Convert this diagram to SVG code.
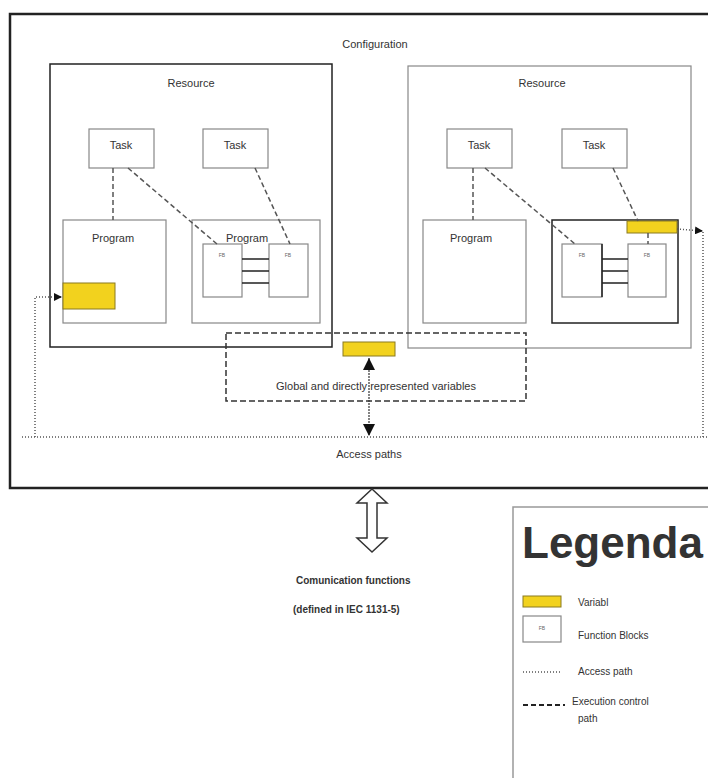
<svg xmlns="http://www.w3.org/2000/svg" width="708" height="778" viewBox="0 0 708 778">
<defs>
<style>
text{font-family:"Liberation Sans",Arial,sans-serif;fill:#333}
.lbl{font-size:11px}
.fb{font-size:5px;fill:#666}
.box{fill:#fff;stroke:#888;stroke-width:1.2}
.bbox{fill:#fff;stroke:#222;stroke-width:1.5}
.var{fill:#f2d21e;stroke:#8a7a20;stroke-width:1}
.exec{fill:none;stroke:#555;stroke-width:1.5;stroke-dasharray:5 3}
.acc{fill:none;stroke:#555;stroke-width:1.5;stroke-dasharray:1 2}
.wire{stroke:#222;stroke-width:1.5}
</style>
<marker id="ah" viewBox="0 0 10 10" refX="10" refY="5" markerWidth="8" markerHeight="8" orient="auto-start-reverse" markerUnits="userSpaceOnUse"><path d="M0,0 L10,5 L0,10 z" fill="#111"/></marker>
<marker id="ah2" viewBox="0 0 10 10" refX="10" refY="5" markerWidth="12" markerHeight="12" orient="auto-start-reverse" markerUnits="userSpaceOnUse"><path d="M0,0 L10,5 L0,10 z" fill="#111"/></marker>
</defs>
<rect width="708" height="778" fill="#fff"/>

<g id="configuration">
<path d="M730,14 H10 V488 H730" fill="none" stroke="#222" stroke-width="2.5"/>
<text class="lbl" x="375" y="48" text-anchor="middle">Configuration</text>
</g>

<g id="resource-left">
<rect class="bbox" x="50" y="64" width="282" height="283"/>
<text class="lbl" x="191" y="87" text-anchor="middle">Resource</text>
</g>
<g id="resource-right">
<rect class="box" x="408" y="66" width="283" height="282" stroke-width="1.5"/>
<text class="lbl" x="542" y="87" text-anchor="middle">Resource</text>
</g>

<g id="global-vars">
<rect x="226" y="333" width="300" height="68" fill="none" stroke="#333" stroke-width="1.5" stroke-dasharray="6 3"/>
<text class="lbl" x="376" y="390" text-anchor="middle" font-size="10">Global and directly represented variables</text>
</g>

<g id="task-l1"><rect class="box" x="89" y="129" width="65" height="39"/><text class="lbl" x="121" y="149" text-anchor="middle">Task</text></g>
<g id="task-l2"><rect class="box" x="203" y="129" width="65" height="39"/><text class="lbl" x="235" y="149" text-anchor="middle">Task</text></g>
<g id="program-l1"><rect class="box" x="63" y="220" width="103" height="103"/><text class="lbl" x="113" y="242" text-anchor="middle">Program</text></g>
<g id="program-l2"><rect class="box" x="192" y="220" width="128" height="103"/><text class="lbl" x="247" y="242" text-anchor="middle">Program</text></g>
<g id="fb-l1"><rect class="box" x="203" y="244" width="39" height="53"/><text class="fb" x="222" y="257" text-anchor="middle">FB</text></g>
<g id="fb-l2"><rect class="box" x="269" y="244" width="39" height="53"/><text class="fb" x="288" y="257" text-anchor="middle">FB</text></g>
<g id="var-l"><rect class="var" x="63" y="283" width="52" height="26"/></g>

<g id="task-r1"><rect class="box" x="447" y="129" width="65" height="39"/><text class="lbl" x="479" y="149" text-anchor="middle">Task</text></g>
<g id="task-r2"><rect class="box" x="562" y="129" width="65" height="39"/><text class="lbl" x="594" y="149" text-anchor="middle">Task</text></g>
<g id="program-r1"><rect class="box" x="423" y="220" width="103" height="103"/><text class="lbl" x="471" y="242" text-anchor="middle">Program</text></g>
<g id="program-r2"><rect class="bbox" x="552" y="220" width="126" height="103"/></g>
<g id="fb-r1"><rect class="box" x="562" y="244" width="40" height="53"/><text class="fb" x="582" y="257" text-anchor="middle">FB</text></g>
<g id="fb-r2"><rect class="box" x="628" y="244" width="38" height="53"/><text class="fb" x="647" y="257" text-anchor="middle">FB</text></g>
<g id="var-r"><rect class="var" x="627" y="221" width="50" height="12"/></g>
<g id="var-g"><rect class="var" x="343" y="342" width="52" height="14"/></g>

<g id="connectors">
<path class="exec" d="M113,168 V220"/>
<path class="exec" d="M128,168 L217,244"/>
<path class="exec" d="M255,168 L290,244"/>
<path class="exec" d="M473,168 V220"/>
<path class="exec" d="M485,168 L575,244"/>
<path class="exec" d="M613,168 L638,221"/>
<path class="exec" d="M648,233 V244" stroke-width="1"/>
<path class="wire" d="M242,259 H269 M242,271 H269 M242,283 H269"/>
<path class="wire" d="M602,259 H628 M602,271 H628 M602,283 H628 M602,244 V297"/>
<path class="acc" d="M22,437 H708"/>
<path class="acc" d="M35,437 V297 H62" marker-end="url(#ah)"/>
<path class="acc" d="M703,437 V231"/>
<path class="acc" d="M677,229 L703,231" marker-end="url(#ah)"/>
<path d="M369,358 V436" stroke="#333" stroke-width="1.2" stroke-dasharray="2 1" marker-start="url(#ah2)" marker-end="url(#ah2)"/>
</g>

<g id="access-paths"><text class="lbl" x="369" y="458" text-anchor="middle" font-size="10">Access  paths</text></g>

<g id="comm-arrow">
<path d="M372,489 L387,503 L377,503 L377,538 L387,538 L372,552 L357,538 L367,538 L367,503 L357,503 Z" fill="#fff" stroke="#333" stroke-width="1.5"/>
</g>
<g id="comm-functions">
<text x="296" y="584" font-size="10" font-weight="bold" fill="#444">Comunication functions</text>
<text x="293" y="613" font-size="10" font-weight="bold" fill="#444">(defined in IEC 1131-5)</text>
</g>

<g id="legend">
<path d="M730,507 H513 V780" fill="none" stroke="#999" stroke-width="1.5"/>
<text x="522" y="558" font-size="44" font-weight="bold" fill="#1a1a1a">Legenda</text>
<rect class="var" x="523" y="596" width="38" height="11"/>
<text x="578" y="606" font-size="10" fill="#555">Variabl</text>
<rect class="box" x="523" y="616" width="38" height="26"/>
<text class="fb" x="542" y="630" text-anchor="middle">FB</text>
<text x="578" y="639" font-size="10" fill="#555">Function Blocks</text>
<path class="acc" d="M523,672 H560" stroke-width="1"/>
<text x="578" y="675" font-size="10" fill="#555">Access path</text>
<path d="M523,705 H565" stroke="#222" stroke-width="2" stroke-dasharray="5 3"/>
<text x="572" y="705" font-size="10" fill="#555">Execution control</text>
<text x="578" y="722" font-size="10" fill="#555">path</text>
</g>
</svg>
